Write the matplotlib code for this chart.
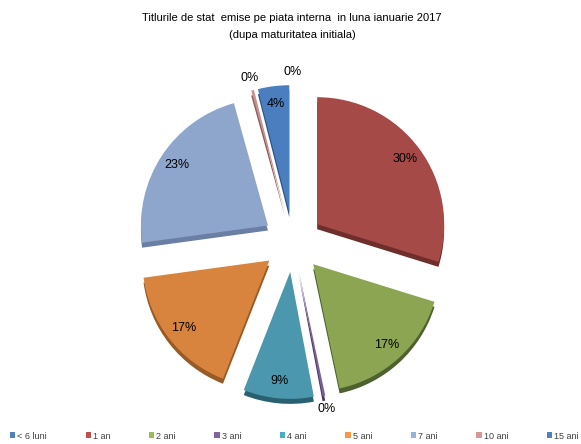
import numpy as np
import matplotlib
matplotlib.use("Agg")
import matplotlib.pyplot as plt
from matplotlib.patches import Patch

plt.rcParams['font.family'] = ['Liberation Sans', 'DejaVu Sans']

categories = ["< 6 luni", "1 an", "2 ani", "3 ani", "4 ani", "5 ani", "7 ani", "10 ani", "15 ani"]
values = [0.0, 30.0, 17.0, 0.35, 9.0, 17.0, 23.0, 0.35, 4.0]
pct_labels = ["0%", "30%", "17%", "0%", "9%", "17%", "23%", "0%", "4%"]
legend_colors = ["#4F81BD", "#C0504D", "#9BBB59", "#8064A2", "#4BACC6",
                 "#F79646", "#95B3D7", "#D99694", "#4F81BD"]
face_colors = ["#4A7EBE", "#A64A48", "#8CA553", "#7A6098", "#4A97AE",
               "#D8843F", "#8EA5CC", "#C9908E", "#4A7EBE"]
side_colors = ["#2F5587", "#6E2E2C", "#4E6130", "#4A3A60", "#2A6070",
               "#9A5A26", "#6A7FA3", "#8A5E5C", "#2F5587"]

W, H = 581, 444
R = 127.0
cx, cy = 293.0, 242.0

fig = plt.figure(figsize=(W / 100, H / 100), dpi=100)
ax = fig.add_axes([0, 0, 1, 1])
ax.set_axis_off()

explode = [30.0 / R] * len(values)
depth = 5.0 / R

# depth (3D side) layer
ax.pie(values, explode=explode, colors=side_colors, startangle=90, counterclock=False,
       radius=1.0, center=(0, -depth), normalize=True,
       wedgeprops=dict(linewidth=0))
# top layer
wedges, _ = ax.pie(values, explode=explode, colors=face_colors, startangle=90,
                   counterclock=False, radius=1.0, center=(0, 0), normalize=True,
                   wedgeprops=dict(linewidth=0))
ax.set_xlim(-cx / R, (W - cx) / R)
ax.set_ylim(-(H - cy) / R, cy / R)
ax.set_aspect('auto')

for w, v, lab in zip(wedges, values, pct_labels):
    th = np.deg2rad(0.5 * (w.theta1 + w.theta2))
    if v >= 1:
        x0, y0 = w.center
        r = 0.86
    else:
        x0, y0 = 0.0, 0.0
        r = 1.34
    ax.text(x0 + r * np.cos(th), y0 + r * np.sin(th), lab, ha='center', va='center',
            fontsize=9, color='#000000')

fig.text(0.503, 1 - 18 / H, "Titlurile de stat  emise pe piata interna  in luna ianuarie 2017",
         ha='center', va='center', fontsize=8)
fig.text(0.503, 1 - 35 / H, "(dupa maturitatea initiala)", ha='center', va='center', fontsize=8)

handles = [Patch(facecolor=c, edgecolor='none') for c in legend_colors]
fig.legend(handles, categories, loc='center left', bbox_to_anchor=(10 / W, 1 - 436 / H),
           ncol=9, frameon=False, fontsize=6.5, handlelength=0.6, handleheight=0.6,
           handletextpad=0.2, columnspacing=4.28, borderpad=0, borderaxespad=0,
           labelcolor='#404040')

fig.savefig("out.png", dpi=100)
